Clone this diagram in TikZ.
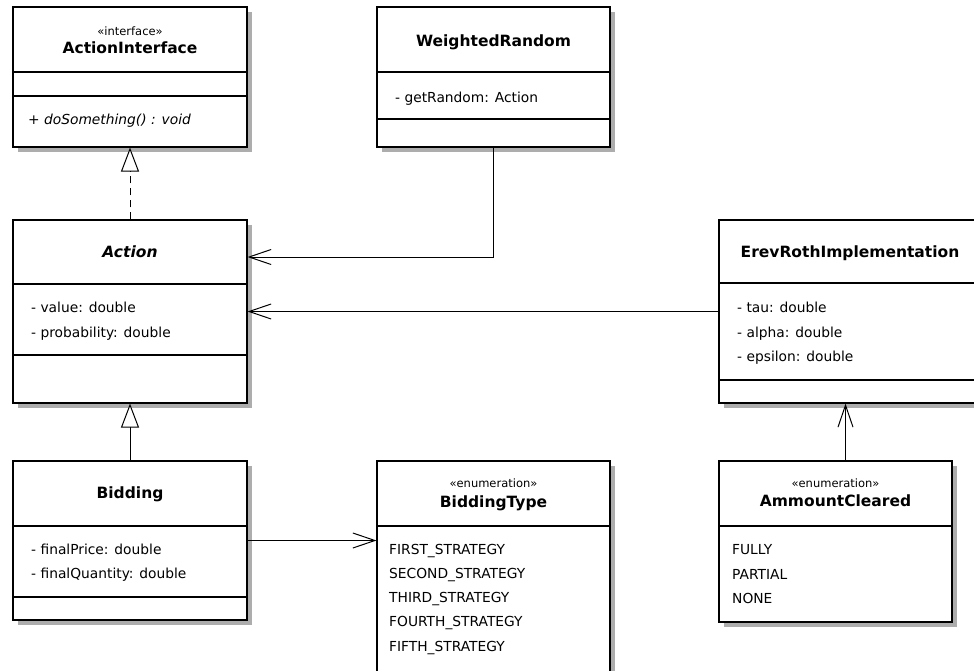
\documentclass[tikz,border=0pt]{standalone}
\usepackage{fontspec}
\setmainfont{DejaVu Sans}
\usetikzlibrary{arrows.meta,shadows}

\tikzset{
  classbox/.style={draw, line width=1.1pt, fill=white, inner sep=0pt,
    drop shadow={shadow xshift=5pt, shadow yshift=-5pt, fill=black!32, opacity=1}},
  divider/.style={line width=1.1pt},
  clsname/.style={font=\fontsize{15.5}{18}\selectfont\bfseries, inner sep=0pt,
    text height=11.3pt, text depth=0pt},
  stereo/.style={font=\fontsize{11.5}{13}\selectfont, inner sep=0pt,
    text height=8.4pt, text depth=0pt},
  member/.style={font=\fontsize{13.8}{16}\selectfont, inner sep=0pt, anchor=west,
    text height=10pt, text depth=0pt},
  assoc/.style={line width=1pt, -{Straight Barb[length=22pt, width=15pt, line width=1pt]}},
  inherit/.style={line width=1pt, -{Triangle[length=24pt, width=18pt, fill=white, line width=1pt]}},
  realize/.style={inherit, dash pattern=on 7pt off 5pt},
}

% draws a class box named #1 spanning (#2,#3) to (#4,#5)
\newcommand{\umlbox}[5]{%
  \node[classbox, minimum width={(#4-#2)*1pt}, minimum height={(#5-#3)*1pt}]
    (#1) at ({(#2+#4)/2},{(#3+#5)/2}) {};}
% horizontal compartment line in box #1 at height #2
\newcommand{\compline}[2]{%
  \draw[divider] (#1.west |- 0,#2) -- (#1.east |- 0,#2);}

\begin{document}
\begin{tikzpicture}[x=1pt, y=-1pt]
\useasboundingbox (0,0) rectangle (974,670);
\begin{scope}
\clip (0,0) rectangle (974,670);

% ---- ActionInterface ----
\umlbox{ai}{13}{7}{247}{147}
\compline{ai}{72}
\compline{ai}{96}
\node[stereo] (aiSt) at (130,31) {«interface»};
\node[clsname] (aiName) at (130,48) {ActionInterface};
\node[member] (aiOp) at (28,119) {\itshape + doSomething() : void};

% ---- WeightedRandom ----
\umlbox{wr}{377}{7}{610}{147}
\compline{wr}{72}
\compline{wr}{119}
\node[clsname] (wrName) at (493.5,41) {WeightedRandom};
\node[member] (wrA) at (395,97) {- getRandom: Action};

% ---- Action ----
\umlbox{action}{13}{220}{247}{403}
\compline{action}{284}
\compline{action}{355}
\node[clsname] (actName) at (130,252) {\itshape Action};
\node[member] (actA) at (31,307) {- value: double};
\node[member] (actB) at (31,332) {- probability: double};

% ---- ErevRothImplementation ----
\umlbox{erev}{719}{220}{981}{403}
\compline{erev}{283}
\compline{erev}{380}
\node[clsname] (erName) at (850,252) {ErevRothImplementation};
\node[member] (erA) at (737,307) {- tau: double};
\node[member] (erB) at (737,332) {- alpha: double};
\node[member] (erC) at (737,356) {- epsilon: double};

% ---- Bidding ----
\umlbox{bid}{13}{461}{247}{620}
\compline{bid}{526}
\compline{bid}{597}
\node[clsname] (bidName) at (130,493) {Bidding};
\node[member] (bidA) at (31,549) {- finalPrice: double};
\node[member] (bidB) at (31,573) {- finalQuantity: double};

% ---- BiddingType ----
\umlbox{bt}{377}{461}{610}{690}
\compline{bt}{526}
\node[stereo] (btSt) at (493.5,483) {«enumeration»};
\node[clsname] (btName) at (493.5,502) {BiddingType};
\node[member] (btA) at (389,549) {FIRST\_STRATEGY};
\node[member] (btB) at (389,573) {SECOND\_STRATEGY};
\node[member] (btC) at (389,597) {THIRD\_STRATEGY};
\node[member] (btD) at (389,621) {FOURTH\_STRATEGY};
\node[member] (btE) at (389,646) {FIFTH\_STRATEGY};

% ---- AmmountCleared ----
\umlbox{ac}{719}{461}{952}{622}
\compline{ac}{526}
\node[stereo] (acSt) at (835.5,483) {«enumeration»};
\node[clsname] (acName) at (835.5,501) {AmmountCleared};
\node[member] (acA) at (732,549) {FULLY};
\node[member] (acB) at (732,574) {PARTIAL};
\node[member] (acC) at (732,598) {NONE};

% ---- relations ----
\draw[realize] (action.north) -- (ai.south);
\draw[inherit] (bid.north) -- (action.south);
\draw[assoc] (wr.south) |- ([yshift=54.5pt]action.east);
\draw[assoc] (erev.west) -- (action.east);
\draw[assoc] (bid.east) -- (bt.west |- bid.east);
\coordinate (acTop) at ([xshift=10pt]ac.north);
\draw[assoc] (acTop) -- (acTop |- erev.south);

\end{scope}
\end{tikzpicture}
\end{document}
